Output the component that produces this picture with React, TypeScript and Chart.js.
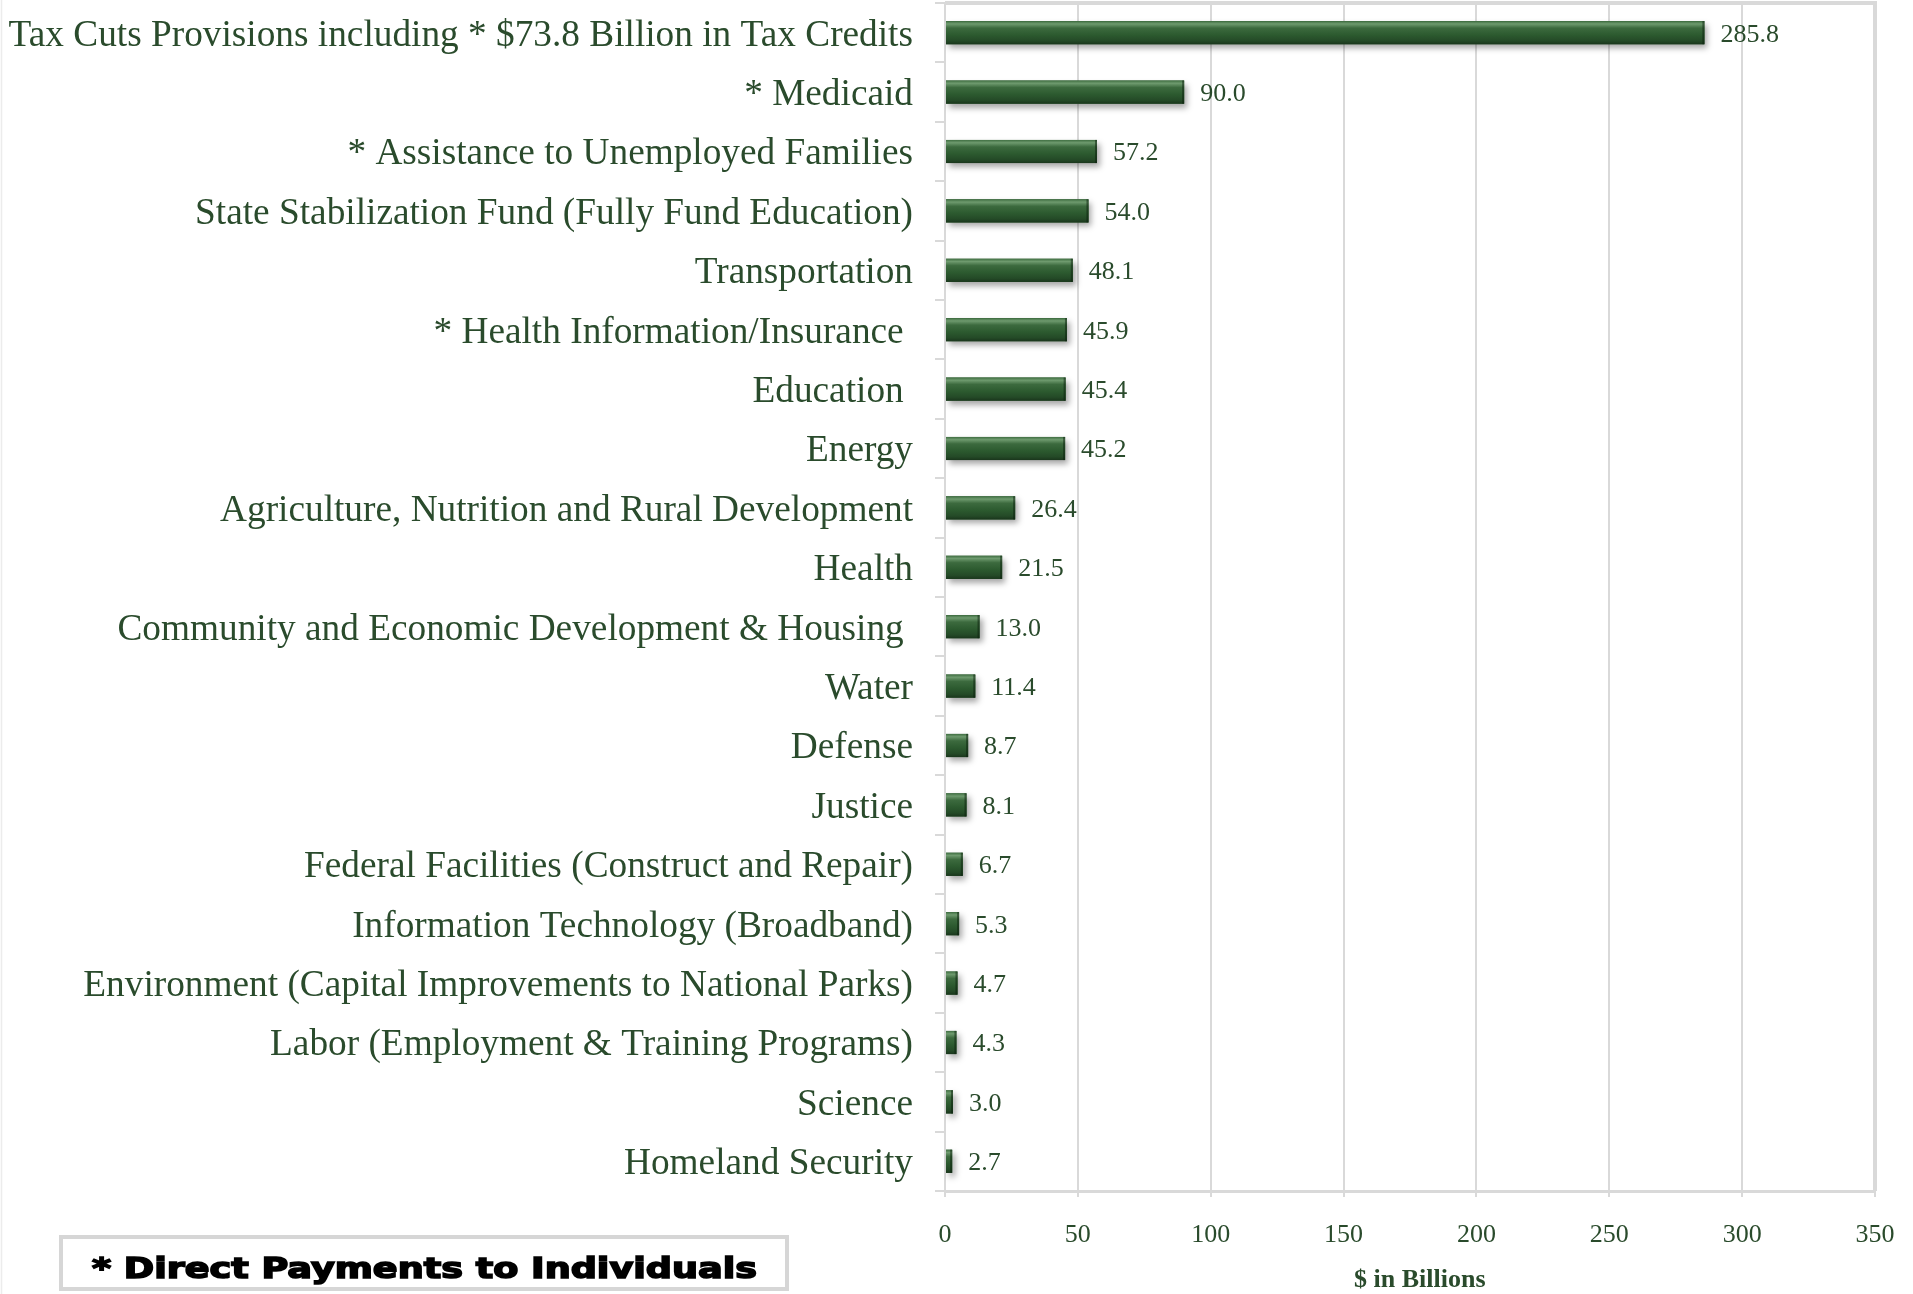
import React, { useEffect, useRef } from 'react';
import { Chart, registerables } from 'chart.js';

Chart.register(...registerables);

const categories = [
  'Tax Cuts Provisions including * $73.8 Billion in Tax Credits',
  '* Medicaid',
  '* Assistance to Unemployed Families',
  'State Stabilization Fund (Fully Fund Education)',
  'Transportation',
  '* Health Information/Insurance ',
  'Education ',
  'Energy',
  'Agriculture, Nutrition and Rural Development',
  'Health',
  'Community and Economic Development & Housing ',
  'Water',
  'Defense',
  'Justice',
  'Federal Facilities (Construct and Repair)',
  'Information Technology (Broadband)',
  'Environment (Capital Improvements to National Parks)',
  'Labor (Employment & Training Programs)',
  'Science',
  'Homeland Security',
];

const values = [285.8, 90.0, 57.2, 54.0, 48.1, 45.9, 45.4, 45.2, 26.4, 21.5, 13.0, 11.4, 8.7, 8.1, 6.7, 5.3, 4.7, 4.3, 3.0, 2.7];

const xMin = 0;
const xMax = 350;
const xStep = 50;
const axisTitle = '   $ in Billions';
const footnote = '* Direct Payments to Individuals';

const TEXT = '#2a4b2c';
const GRID = '#d9d9d9';
const SERIF = '"Liberation Serif", "Times New Roman", serif';

const barStyle = {
  id: 'barStyle',
  beforeDatasetsDraw(chart: any) {
    const ctx = chart.ctx;
    const a = chart.chartArea;
    ctx.save();
    ctx.strokeStyle = GRID;
    ctx.lineWidth = 4;
    ctx.beginPath();
    ctx.moveTo(a.left, a.top);
    ctx.lineTo(a.right, a.top);
    ctx.lineTo(a.right, a.bottom);
    ctx.stroke();
    ctx.restore();
    ctx.save();
    ctx.shadowColor = 'rgba(0,0,0,0.35)';
    ctx.shadowBlur = 6;
    ctx.shadowOffsetX = 3;
    ctx.shadowOffsetY = 4;
  },
  afterDatasetsDraw(chart: any) {
    const ctx = chart.ctx;
    ctx.restore();
    const meta = chart.getDatasetMeta(0);
    const data = chart.data.datasets[0].data;
    meta.data.forEach((el: any, i: number) => {
      const { x, y, base, height } = el.getProps(['x', 'y', 'base', 'height'], true);
      const top = y - height / 2;
      const g = ctx.createLinearGradient(0, top, 0, top + height);
      g.addColorStop(0, '#3f6e41');
      g.addColorStop(0.12, '#6e9a6e');
      g.addColorStop(0.3, '#3c6a3e');
      g.addColorStop(0.6, '#2c5a2f');
      g.addColorStop(0.85, '#244a27');
      g.addColorStop(1, '#1a361c');
      ctx.save();
      ctx.fillStyle = g;
      ctx.fillRect(base, top, x - base, height);
      ctx.fillStyle = 'rgba(10,30,12,0.5)';
      ctx.fillRect(Math.max(base, x - 2), top, Math.min(2, x - base), height);
      ctx.restore();
      ctx.save();
      ctx.font = '26px ' + SERIF;
      ctx.fillStyle = TEXT;
      ctx.textAlign = 'left';
      ctx.textBaseline = 'middle';
      ctx.fillText(Number(data[i]).toFixed(1), x + 16, y + 2);
      ctx.restore();
    });
  },
  afterDraw(chart: any) {
    const ctx = chart.ctx;
    ctx.save();
    ctx.strokeStyle = '#ececec';
    ctx.lineWidth = 1.5;
    ctx.beginPath();
    ctx.moveTo(1.5, 0);
    ctx.lineTo(1.5, 1294);
    ctx.stroke();
    ctx.strokeStyle = '#d6d6d6';
    ctx.lineWidth = 4;
    ctx.strokeRect(61, 1237, 726, 52);
    ctx.font = 'bold 29px "DejaVu Sans", sans-serif';
    const w = ctx.measureText(footnote).width;
    ctx.translate(92, 1270);
    ctx.scale(665 / w, 1);
    ctx.fillStyle = '#000';
    ctx.strokeStyle = '#000';
    ctx.lineWidth = 1.6;
    ctx.textAlign = 'left';
    ctx.textBaseline = 'middle';
    ctx.fillText(footnote, 0, 0);
    ctx.strokeText(footnote, 0, 0);
    ctx.restore();
  },
};

export default function App() {
  const ref = useRef<HTMLCanvasElement>(null);
  useEffect(() => {
    document.body.style.margin = '0';
    const chart = new Chart(ref.current as HTMLCanvasElement, {
      type: 'bar',
      data: {
        labels: categories,
        datasets: [
          {
            data: values,
            backgroundColor: '#2c5a2f',
            borderWidth: 0,
            barPercentage: 0.39,
            categoryPercentage: 1,
          },
        ],
      },
      options: {
        indexAxis: 'y',
        animation: false,
        responsive: true,
        maintainAspectRatio: false,
        layout: { padding: { top: 3, right: 38, left: 0, bottom: 0 } },
        plugins: { legend: { display: false }, tooltip: { enabled: false } },
        scales: {
          x: {
            type: 'linear',
            min: xMin,
            max: xMax,
            ticks: { stepSize: xStep, font: { family: SERIF, size: 26 }, color: TEXT, padding: 23 },
            grid: { color: GRID, lineWidth: 2, tickLength: 6 },
            border: { color: GRID, width: 3 },
            title: {
              display: true,
              text: axisTitle,
              font: { family: SERIF, size: 26, weight: 'bold' },
              color: TEXT,
              padding: { top: 0, bottom: -2 },
            },
            afterFit: (s: any) => {
              s.height = 103;
              s.paddingLeft = 0;
              s.paddingRight = 0;
            },
          },
          y: {
            type: 'category',
            ticks: { font: { family: SERIF, size: 37.3 }, color: TEXT, padding: 22, autoSkip: false, labelOffset: 3 },
            grid: { drawOnChartArea: false, color: GRID, lineWidth: 2, tickLength: 10 },
            border: { color: GRID, width: 2 },
            afterFit: (s: any) => {
              s.width = 945;
              s.paddingTop = 0;
              s.paddingBottom = 0;
            },
          },
        },
      } as any,
      plugins: [barStyle],
    });
    return () => chart.destroy();
  }, []);
  return (
    <div style={{ position: 'absolute', left: 0, top: 0, width: 1913, height: 1294, background: '#fff' }}>
      <canvas ref={ref} />
    </div>
  );
}
